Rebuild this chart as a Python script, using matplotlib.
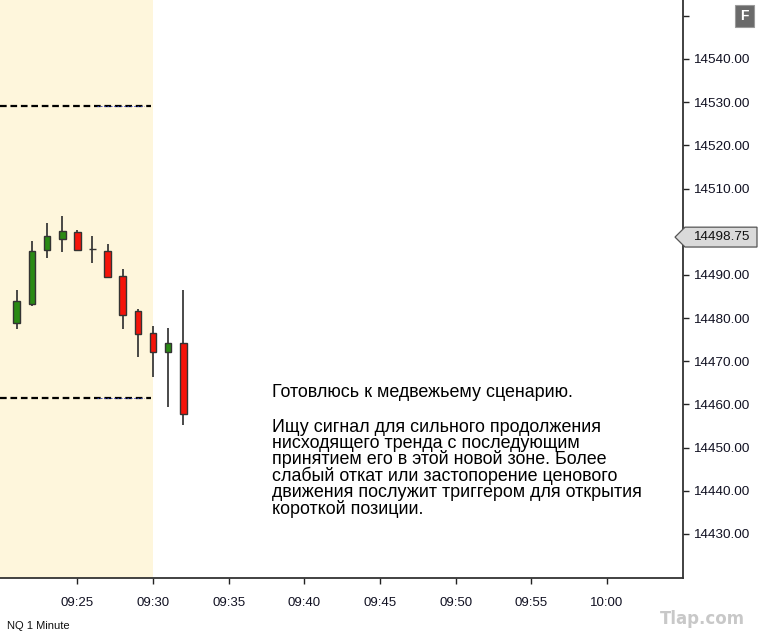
import matplotlib

matplotlib.use("Agg")
import matplotlib.pyplot as plt
import matplotlib.transforms as mtransforms
from matplotlib.patches import Polygon, FancyBboxPatch


OUTPUT_FILE = "out.png"

# минутные свечи NQ, 09:21 - 09:32
TIMES = ["09:21", "09:22", "09:23", "09:24", "09:25", "09:26",
         "09:27", "09:28", "09:29", "09:30", "09:31", "09:32"]
OPENS = [14478.75, 14483.25, 14495.75, 14498.25, 14500.0, 14496.0,
         14495.5, 14489.75, 14481.75, 14476.5, 14472.25, 14474.25]
HIGHS = [14486.5, 14497.75, 14502.0, 14503.75, 14500.5, 14499.0,
         14497.25, 14491.25, 14482.0, 14478.25, 14477.75, 14486.5]
LOWS = [14477.5, 14482.75, 14494.0, 14495.25, 14495.5, 14492.75,
        14489.25, 14477.5, 14471.0, 14466.25, 14459.5, 14455.25]
CLOSES = [14484.0, 14495.5, 14499.0, 14500.25, 14495.75, 14496.0,
          14489.5, 14480.75, 14476.25, 14472.25, 14474.25, 14457.75]

ZONE_LEVELS = [14529.0, 14461.5]
LAST_PRICE = 14498.75

X_TICKS = ["09:25", "09:30", "09:35", "09:40", "09:45", "09:50", "09:55", "10:00"]
Y_TICKS = [14430, 14440, 14450, 14460, 14470, 14480, 14490, 14500,
           14510, 14520, 14530, 14540, 14550]
# подписи, закрытые меткой цены или обрезанные сверху
HIDDEN_Y_LABELS = [14500, 14550]

SESSION_START = "09:30"

TITLE_LINE = "Готовлюсь к медвежьему сценарию."
NOTE_TEXT = (
    "Ищу сигнал для сильного продолжения\n"
    "нисходящего тренда с последующим\n"
    "принятием его в этой новой зоне. Более\n"
    "слабый откат или застопорение ценового\n"
    "движения послужит триггером для открытия\n"
    "короткой позиции."
)

GREEN = "#2a8a14"
RED = "#f5140a"
EDGE = "#333333"
SHADE = "#fef6dc"


def to_minutes(label: str) -> int:
    h, m = label.split(":")
    return int(h) * 60 + int(m)


def main() -> None:
    plt.rcParams["font.family"] = ["Liberation Sans", "DejaVu Sans"]

    fig = plt.figure(figsize=(7.6, 6.42), dpi=100)
    ax = fig.add_axes([0, 64 / 642, 683 / 760, 578 / 642])

    xs = [to_minutes(t) for t in TIMES]
    x_min, x_max = to_minutes("09:25") - 5.11, to_minutes("10:00") + 5.02
    ax.set_xlim(x_min, x_max)
    ax.set_ylim(14419.8, 14553.66)

    # утренняя зона до открытия
    ax.axvspan(x_min, to_minutes(SESSION_START), color=SHADE, zorder=0, lw=0)

    for level in ZONE_LEVELS:
        ax.hlines(level, x_min, to_minutes(SESSION_START) - 0.1, colors="black",
                  linestyles=(0, (3, 1.7)), lw=1.6, zorder=2)
        ax.hlines(level, to_minutes("09:26") + 0.3, to_minutes(SESSION_START) - 0.6,
                  colors="#3040c0", linestyles=(0, (2, 2)), lw=0.6, zorder=3)

    # свечи
    ax.vlines(xs, LOWS, HIGHS, colors="#3a3a3a", lw=1.3, zorder=3)
    colors = [GREEN if c > o else RED for o, c in zip(OPENS, CLOSES)]
    bottoms = [min(o, c) for o, c in zip(OPENS, CLOSES)]
    heights = [abs(c - o) for o, c in zip(OPENS, CLOSES)]
    ax.bar(xs, heights, bottom=bottoms, width=0.44, color=colors,
           edgecolor=EDGE, linewidth=1.0, zorder=4)

    ax.set_xticks([to_minutes(t) for t in X_TICKS])
    ax.set_xticklabels(X_TICKS)
    ax.yaxis.tick_right()
    ax.set_yticks(Y_TICKS)
    ax.set_yticklabels(["" if v in HIDDEN_Y_LABELS else f"{v:.2f}" for v in Y_TICKS])
    ax.tick_params(axis="both", direction="out", length=4.5, width=1.0,
                   color="#222222", labelcolor="#111122")
    ax.tick_params(axis="y", pad=3, labelsize=9.7)
    ax.tick_params(axis="x", pad=9, labelsize=9.5)

    for side in ("left", "top"):
        ax.spines[side].set_visible(False)
    for side in ("right", "bottom"):
        ax.spines[side].set_color("#333333")
        ax.spines[side].set_linewidth(1.3)

    # метка последней цены
    trans = mtransforms.blended_transform_factory(fig.transFigure, ax.transData)
    half = 2.3
    x0, x1, x2 = 675 / 760, 685 / 760, 757 / 760
    marker = Polygon(
        [(x0, LAST_PRICE), (x1, LAST_PRICE + half), (x2, LAST_PRICE + half),
         (x2, LAST_PRICE - half), (x1, LAST_PRICE - half)],
        closed=True, transform=trans, facecolor="#dadada",
        edgecolor="#555555", lw=0.9, clip_on=False, zorder=5,
    )
    fig.add_artist(marker)
    fig.text(721 / 760, LAST_PRICE, f"{LAST_PRICE:.2f}", transform=trans,
             ha="center", va="center", fontsize=9.7, color="#111111", zorder=6)

    # кнопка "F"
    icon = FancyBboxPatch((735 / 760, 1 - 27 / 642), 19 / 760, 22 / 642,
                          boxstyle="square,pad=0", transform=fig.transFigure,
                          facecolor="#6a6a6a", edgecolor="#9a9a9a", lw=0.8)
    fig.add_artist(icon)
    fig.text(744.5 / 760, 1 - 16 / 642, "F", ha="center", va="center",
             fontsize=10, color="white", fontweight="bold")

    fig.text(272 / 760, 1 - 396.7 / 642, TITLE_LINE, ha="left", va="baseline",
             fontsize=12.9, color="black")
    # для многострочного текста baseline - это последняя строка
    fig.text(272 / 760, 1 - 513.5 / 642, NOTE_TEXT, ha="left", va="baseline",
             fontsize=12.9, color="black", linespacing=0.9)

    fig.text(7 / 760, 1 - 626 / 642, "NQ 1 Minute", ha="left", va="center",
             fontsize=8, color="#111111")
    fig.text(702 / 760, 1 - 619 / 642, "Tlap.com", ha="center", va="center",
             fontsize=12, color="#c8c8c8", fontweight="bold",
             family=["DejaVu Sans"])

    fig.savefig(OUTPUT_FILE, dpi=100)
    plt.close(fig)


if __name__ == "__main__":
    main()
